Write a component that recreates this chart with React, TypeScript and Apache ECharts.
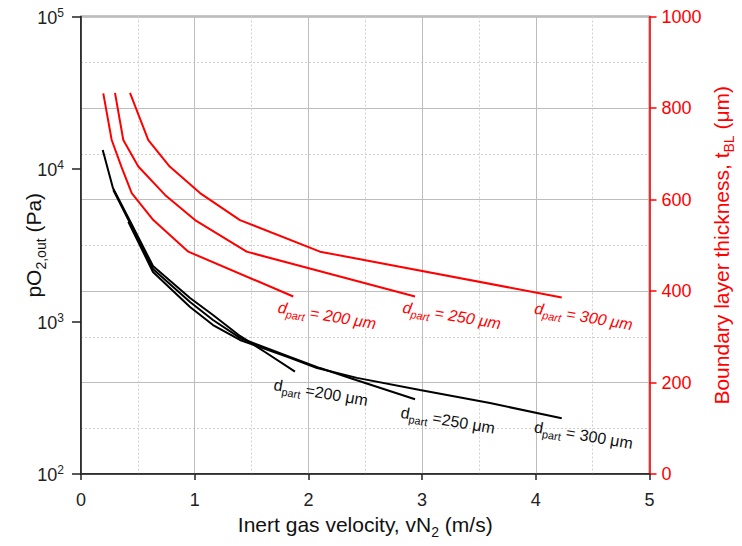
import React, { useEffect, useRef } from "react";
import * as echarts from "echarts";

// ---- data ----
// Boundary layer thickness (right axis, µm)
const red200V = [0.196, 0.27, 0.355, 0.446, 0.636, 0.944, 1.867];
const red200T = [832, 730, 672, 614, 555, 486, 388];
const red250V = [0.299, 0.372, 0.504, 0.739, 1.003, 1.457, 2.938];
const red250T = [833, 730, 672, 610, 555, 486, 388];
const red300V = [0.431, 0.592, 0.78, 1.047, 1.398, 2.102, 4.228];
const red300T = [833, 730, 672, 614, 555, 486, 386];

// pO2,out (left log axis, Pa)
const black200V = [0.191, 0.281, 0.431, 0.633, 0.959, 1.161, 1.398, 1.618, 1.882];
const black200P = [13340, 7500, 4560, 2312, 1426, 1103, 804, 631, 469];
const black250V = [0.284, 0.431, 0.633, 0.959, 1.161, 1.398, 1.838, 2.102, 2.419, 2.938];
const black250P = [7280, 4430, 2208, 1343, 1023, 780, 585, 495, 413, 309];
const black300V = [0.416, 0.633, 0.959, 1.161, 1.398, 1.838, 2.076, 2.427, 2.982, 3.597, 4.228];
const black300P = [4510, 2113, 1245, 948, 757, 577, 495, 427, 356, 292, 232];

const redLabels = ["= 200 μm", "= 250 μm", "= 300 μm"];
const blackLabels = ["=200 μm", "=250 μm", "= 300 μm"];

const FONT = "'Liberation Sans', Arial, sans-serif";
const RED = "#ff0000";
const BLACK = "#000000";

const zip = (a: number[], b: number[]) => a.map((v, i) => [v, b[i]]);

export default function App() {
  const ref = useRef<HTMLDivElement>(null);

  useEffect(() => {
    document.body.style.margin = "0";
    const chart = echarts.init(ref.current!, undefined, { renderer: "svg" });

    const lineSeries = (data: number[][], color: string, yAxisIndex: number) => ({
      type: "line",
      data,
      yAxisIndex,
      showSymbol: false,
      symbol: "none",
      smooth: false,
      lineStyle: { color, width: 2 },
      z: 3,
    });

    const series = [
      lineSeries(zip(red200V, red200T), RED, 1),
      lineSeries(zip(red250V, red250T), RED, 1),
      lineSeries(zip(red300V, red300T), RED, 1),
      lineSeries(zip(black200V, black200P), BLACK, 0),
      lineSeries(zip(black250V, black250P), BLACK, 0),
      lineSeries(zip(black300V, black300P), BLACK, 0),
    ];

    const nameRich = (color: string) => ({
      a: { fontSize: 21, color, fontFamily: FONT, lineHeight: 24, verticalAlign: "bottom" },
      s: { fontSize: 14, color, fontFamily: FONT, lineHeight: 14, verticalAlign: "bottom", padding: [0, 0, -4, 0] },
    });

    chart.setOption({
      animation: false,
      textStyle: { fontFamily: FONT },
      grid: {
        left: 81,
        right: 92.5,
        top: 16.5,
        bottom: 72,
        containLabel: false,
        outerBoundsMode: "none",
        show: true,
        borderColor: "#222",
        borderWidth: 1.5,
        backgroundColor: "transparent",
      },
      xAxis: {
        type: "value",
        min: 0,
        max: 5,
        interval: 1,
        name: "{a|Inert gas velocity, vN}{s|2}{a| (m/s)}",
        nameLocation: "middle",
        nameGap: 37,
        nameMoveOverlap: false,
        nameTextStyle: { rich: nameRich("#111") },
        axisLine: { show: true, lineStyle: { color: "#222", width: 1.5 } },
        axisTick: { show: true, inside: false, length: 6, lineStyle: { color: "#222", width: 1.5 } },
        axisLabel: { fontSize: 18, color: "#222", margin: 17, fontFamily: FONT },
        splitLine: { show: true, lineStyle: { color: "#bdbdbd", width: 1 } },
        minorTick: { show: false, splitNumber: 2 },
        minorSplitLine: { show: true, lineStyle: { color: "#d0d0d0", width: 1, type: [2, 2] } },
      },
      yAxis: [
        {
          type: "log",
          logBase: 10,
          min: 100,
          max: 100000,
          position: "left",
          name: "{a|pO}{s|2,out}{a| (Pa)}",
          nameLocation: "middle",
          nameRotate: 90,
          nameGap: 37,
          nameMoveOverlap: false,
          nameTextStyle: { rich: nameRich("#111") },
          axisLine: { show: true, lineStyle: { color: "#222", width: 1.5 } },
          axisTick: { show: true, inside: false, length: 9, lineStyle: { color: "#222", width: 1.5 } },
          axisLabel: {
            margin: 17,
            formatter: (v: number) => `{b|10}{s|${Math.round(Math.log10(v))}}`,
            rich: {
              b: { fontSize: 18, color: "#222", fontFamily: FONT, lineHeight: 20, verticalAlign: "bottom" },
              s: { fontSize: 12, color: "#222", fontFamily: FONT, lineHeight: 12, verticalAlign: "top" },
            },
          },
          splitLine: { show: false },
          minorTick: { show: false },
          minorSplitLine: { show: false },
        },
        {
          type: "value",
          min: 0,
          max: 1000,
          interval: 200,
          position: "right",
          name: "{a|Boundary layer thickness, t}{s|BL}{a| (μm)}",
          nameLocation: "middle",
          nameRotate: 90,
          nameGap: 58,
          nameMoveOverlap: false,
          nameTextStyle: { rich: nameRich(RED) },
          axisLine: { show: true, lineStyle: { color: RED, width: 1.5 } },
          axisTick: { show: true, inside: false, length: 7, lineStyle: { color: RED, width: 1.5 } },
          axisLabel: { fontSize: 18, color: RED, margin: 12, fontFamily: FONT, formatter: (v: number) => String(v) },
          splitLine: { show: true, lineStyle: { color: "#bdbdbd", width: 1 } },
          minorTick: { show: false, splitNumber: 2 },
          minorSplitLine: { show: true, lineStyle: { color: "#d0d0d0", width: 1, type: [2, 2] } },
        },
      ],
      series,
    });

    // Curve annotations anchored at each curve's last point
    const ends: [number, number[], number[], string, boolean, number, number][] = [
      [0, red200V, red200T, redLabels[0], true, 34, 18],
      [1, red250V, red250T, redLabels[1], true, 37, 18],
      [2, red300V, red300T, redLabels[2], true, 22, 18],
      [3, black200V, black200P, blackLabels[0], false, 26, 20],
      [4, black250V, black250P, blackLabels[1], false, 33, 20],
      [5, black300V, black300P, blackLabels[2], false, 22, 16],
    ];
    const graphic = ends.map(([si, vs, ys, txt, isRed, dx, dy]) => {
      const n = vs.length - 1;
      const p = chart.convertToPixel({ seriesIndex: si }, [vs[n], ys[n]]) as number[];
      const color = isRed ? RED : "#111";
      const fontStyle = isRed ? "italic" : "normal";
      return {
        type: "text",
        x: p[0] + dx,
        y: p[1] + dy,
        rotation: -0.17,
        z: 10,
        style: {
          text: `{a|d}{s|part}{a| ${txt}}`,
          align: "center",
          verticalAlign: "middle",
          fill: color,
          rich: {
            a: { fontSize: 16, fontFamily: FONT, fill: color, color, fontStyle, lineHeight: 18, verticalAlign: "bottom" },
            s: { fontSize: 11, fontFamily: FONT, fill: color, color, fontStyle, lineHeight: 11, verticalAlign: "bottom", padding: [0, 0, -3, 0] },
          },
        },
      };
    });
    chart.setOption({ graphic });

    return () => chart.dispose();
  }, []);

  return <div ref={ref} style={{ width: 742, height: 546 }} />;
}
